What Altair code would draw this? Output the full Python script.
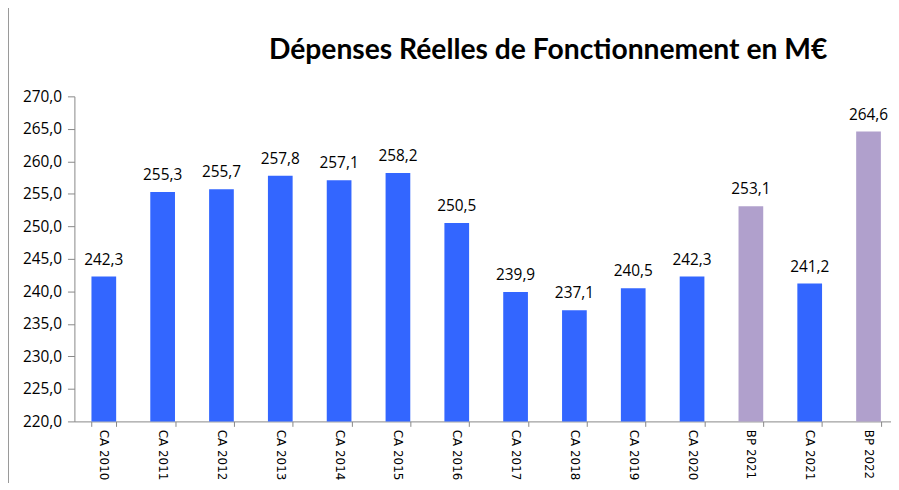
import altair as alt
import pandas as pd

categories = ["CA 2010", "CA 2011", "CA 2012", "CA 2013", "CA 2014", "CA 2015", "CA 2016",
              "CA 2017", "CA 2018", "CA 2019", "CA 2020", "BP 2021", "CA 2021", "BP 2022"]
values = [242.3, 255.3, 255.7, 257.8, 257.1, 258.2, 250.5, 239.9, 237.1, 240.5, 242.3, 253.1, 241.2, 264.6]
kinds = ["CA"] * 11 + ["BP", "CA", "BP"]
y_ticks = [220, 225, 230, 235, 240, 245, 250, 255, 260, 265, 270]
title_text = ["Dépenses Réelles de Fonctionnement en M€"]

df = pd.DataFrame({"cat": categories, "val": values, "kind": kinds})
df["lbl"] = df["val"].map(lambda v: f"{v:.1f}".replace(".", ","))
tdf = pd.DataFrame({"t": title_text})

x = alt.X("cat:N", sort=categories, title=None,
          scale=alt.Scale(paddingInner=0.58, paddingOuter=0.29, range=[0, 831]),
          axis=alt.Axis(labelAngle=90, labelFont="DejaVu Sans", labelFontSize=12,
                        labelColor="#000", domainColor="#888", tickColor="#888",
                        tickBand="extent", tickSize=5, labelPadding=3, grid=False))
y = alt.Y("val:Q", title=None,
          scale=alt.Scale(domain=[220, 270], zero=False, nice=False),
          axis=alt.Axis(values=y_ticks, labelOverlap=False,
                        labelExpr="replace(format(datum.value, '.1f'), '.', ',')",
                        labelFont="Open Sans", labelFontSize=15.5, labelColor="#000",
                        domainColor="#888", tickColor="#888", tickSize=7, labelPadding=6, grid=False))

bars = alt.Chart(df).mark_bar().encode(
    x=x, y=y, y2=alt.datum(220),
    color=alt.Color("kind:N", scale=alt.Scale(domain=["CA", "BP"], range=["#3366FF", "#B0A0CC"]), legend=None),
)
labels = alt.Chart(df).mark_text(dy=-12, baseline="alphabetic", font="Open Sans", fontSize=15.5, color="#000").encode(
    x=x, y=y, text="lbl:N")
frame = alt.Chart(df).mark_rule(color="#999", strokeWidth=1).encode(
    x=alt.value(-67), y=alt.value(-95), y2=alt.value(400))
title = alt.Chart(tdf).mark_text(font="Lato", fontSize=28.5, fontWeight="bold", color="#000",
                                 baseline="middle", align="center").encode(
    x=alt.value(478), y=alt.value(-47), text="t:N")

chart = alt.layer(frame, bars, labels, title).properties(
    width=824, height=328,
    autosize=alt.AutoSizeParams(type="none"),
    padding={"left": 67, "top": 87, "right": 0, "bottom": 60},
).configure_view(stroke=None)

chart.save("out.html", embed_options={"renderer": "svg", "actions": False})
